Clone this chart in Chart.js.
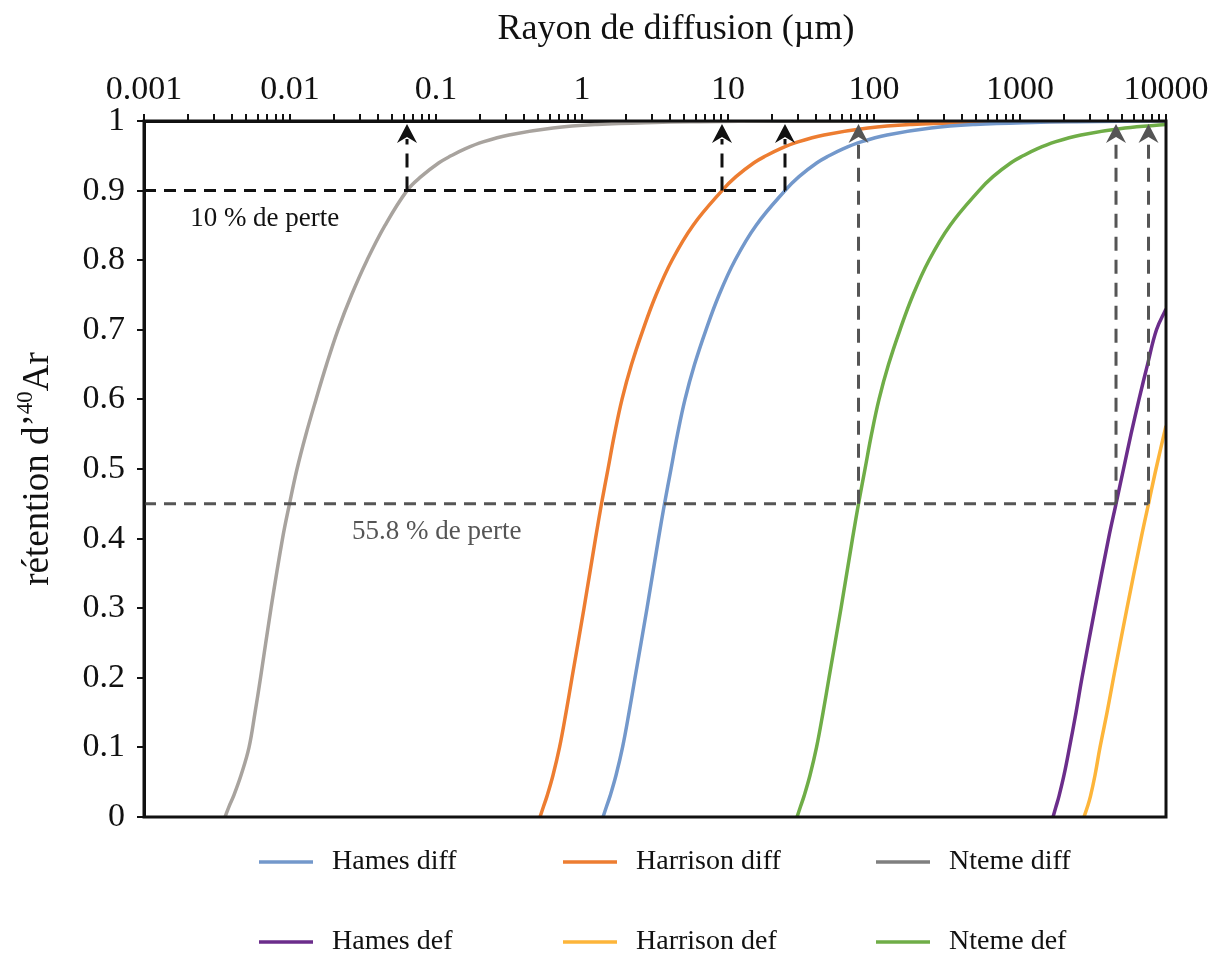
<!DOCTYPE html>
<html>
<head>
<meta charset="utf-8">
<script src="https://cdn.jsdelivr.net/npm/chart.js@4.4.1/dist/chart.umd.min.js"></script>
<style>
  body { margin: 0; background: #fff; }
  #wrap { width: 1217px; height: 958px; position: relative; }
</style>
</head>
<body>
<div id="wrap"><canvas id="chart-area"></canvas></div>
<script>
// rayon de diffusion (µm), retention
const hamesDiffR      = [1.393, 1.472, 1.556, 1.710, 1.895, 2.099, 2.307, 2.788, 3.341, 3.674, 4.071, 4.511, 5.076, 5.897, 7.069, 8.679, 11.17, 15.56, 24.57, 30.64, 40.70, 49.18, 61.33, 81.47, 122.8, 245.7, 491.8, 1228, 2457, 9097, 10000];
const hamesDiffRet    = [0, 0.015, 0.03, 0.06, 0.1, 0.15, 0.2, 0.3, 0.4, 0.45, 0.5, 0.55, 0.6, 0.65, 0.7, 0.75, 0.8, 0.85, 0.9, 0.92, 0.94, 0.95, 0.96, 0.97, 0.98, 0.99, 0.995, 0.998, 0.999, 1, 1];

const harrisonDiffR   = [0.5157, 0.5449, 0.5759, 0.6330, 0.7014, 0.7771, 0.8541, 1.032, 1.237, 1.360, 1.507, 1.670, 1.879, 2.183, 2.617, 3.213, 4.135, 5.759, 9.097, 11.34, 15.07, 18.21, 22.71, 30.17, 45.46, 90.97, 182.1, 454.6, 909.7, 7770, 10000];
const harrisonDiffRet = [0, 0.015, 0.03, 0.06, 0.1, 0.15, 0.2, 0.3, 0.4, 0.45, 0.5, 0.55, 0.6, 0.65, 0.7, 0.75, 0.8, 0.85, 0.9, 0.92, 0.94, 0.95, 0.96, 0.97, 0.98, 0.99, 0.995, 0.998, 0.999, 1, 1];

const ntemeDiffR      = [0.003589, 0.003821, 0.004103, 0.004618, 0.005240, 0.005759, 0.006283, 0.007411, 0.008887, 0.009922, 0.01117, 0.01287, 0.01507, 0.01778, 0.02132, 0.02638, 0.03369, 0.04475, 0.06330, 0.07893, 0.1048, 0.1267, 0.1580, 0.2099, 0.3162, 0.6330, 1.267, 3.162, 6.330, 22.71, 10000];
const ntemeDiffRet    = [0, 0.015, 0.03, 0.06, 0.1, 0.15, 0.2, 0.3, 0.4, 0.45, 0.5, 0.55, 0.6, 0.65, 0.7, 0.75, 0.8, 0.85, 0.9, 0.92, 0.94, 0.95, 0.96, 0.97, 0.98, 0.99, 0.995, 0.998, 0.999, 1, 1];

const hamesDefR       = [1683, 1765, 1850, 2001, 2183, 2419, 2659, 3264, 4039, 4546, 5116, 5759, 6533, 7470, 8607, 10000];
const hamesDefRet     = [0, 0.015, 0.03, 0.06, 0.1, 0.15, 0.2, 0.3, 0.4, 0.45, 0.5, 0.55, 0.6, 0.65, 0.7, 0.73];

const harrisonDefR    = [2744, 2900, 3040, 3264, 3531, 3944, 4370, 5406, 6743, 7589, 8541, 10000];
const harrisonDefRet  = [0, 0.015, 0.03, 0.06, 0.1, 0.15, 0.2, 0.3, 0.4, 0.45, 0.5, 0.562];

const ntemeDefR       = [29.70, 31.38, 33.17, 36.45, 40.39, 44.75, 49.19, 59.43, 71.24, 78.32, 86.79, 96.18, 108.2, 125.7, 150.7, 185.0, 238.1, 331.7, 523.9, 653.1, 867.9, 1049, 1308, 1738, 2618, 5239, 10000];
const ntemeDefRet     = [0, 0.015, 0.03, 0.06, 0.1, 0.15, 0.2, 0.3, 0.4, 0.45, 0.5, 0.55, 0.6, 0.65, 0.7, 0.75, 0.8, 0.85, 0.9, 0.92, 0.94, 0.95, 0.96, 0.97, 0.98, 0.99, 0.9948];

const seriesLabels = ['Hames diff', 'Harrison diff', 'Nteme diff', 'Hames def', 'Harrison def', 'Nteme def'];

// axes
const xTickLabels = ['0.001', '0.01', '0.1', '1', '10', '100', '1000', '10000'];
const xMinorSteps = [1, 2, 3, 4, 5, 6, 7, 8, 9];
const yTickLabels = ['0', '0.1', '0.2', '0.3', '0.4', '0.5', '0.6', '0.7', '0.8', '0.9', '1'];

// loss markers (level + radii where the curves cross it)
const lossLevels = [0.9, 0.45];
const lossTexts  = ['10 % de perte', '55.8 % de perte'];
const lossRadii  = [[0.0633, 9.097, 24.57], [78.32, 4546, 7589]];
const lossTextAt = [0.00207, 0.0266];

const SERIF = "'Liberation Serif', 'Times New Roman', serif";
const colors = ['#7398CB', '#ED7D31', '#A8A39E', '#6B2D8B', '#FDB53A', '#6FAD47'];
const legendColors = ['#7398CB', '#ED7D31', '#7F7F7F', '#6B2D8B', '#FDB53A', '#6FAD47'];
const guideColors = ['#111111', '#555555'];

function zip(rs, vs) { return rs.map((r, i) => ({x: r, y: vs[i]})); }

const allR   = [hamesDiffR, harrisonDiffR, ntemeDiffR, hamesDefR, harrisonDefR, ntemeDefR];
const allRet = [hamesDiffRet, harrisonDiffRet, ntemeDiffRet, hamesDefRet, harrisonDefRet, ntemeDefRet];

let datasets = seriesLabels.map((lbl, i) => ({
    label: lbl,
    data: zip(allR[i], allRet[i]),
    borderColor: colors[i],
    backgroundColor: colors[i],
    borderWidth: 3.5,
    pointRadius: 0,
    tension: 0.4,
    fill: false
}));

let xTickValues = [];
for (let e = -3; e < 4; e++) {
    xMinorSteps.forEach(m => xTickValues.push(Number((m * Math.pow(10, e)).toPrecision(3))));
}
xTickValues.push(10000);

const guides = {
    id: 'guides',
    afterDatasetsDraw(chart) {
        const {ctx, chartArea: a, scales: {x, y}} = chart;
        lossLevels.forEach((lvl, k) => {
            const yy = y.getPixelForValue(lvl);
            const xs = lossRadii[k].map(r => x.getPixelForValue(r));
            const col = guideColors[k];
            ctx.save();
            ctx.strokeStyle = col;
            ctx.lineWidth = 3;
            ctx.setLineDash([12, 8]);
            ctx.beginPath();
            ctx.moveTo(a.left, yy);
            ctx.lineTo(Math.max(...xs), yy);
            ctx.stroke();
            ctx.setLineDash([14, 9]);
            xs.forEach(px => {
                ctx.beginPath();
                ctx.moveTo(px, yy);
                ctx.lineTo(px, a.top + 18);
                ctx.stroke();
            });
            ctx.setLineDash([]);
            ctx.fillStyle = col;
            xs.forEach(px => {
                const tip = a.top + 3;
                ctx.beginPath();
                ctx.moveTo(px, tip);
                ctx.lineTo(px + 10, tip + 19);
                ctx.lineTo(px, tip + 13);
                ctx.lineTo(px - 10, tip + 19);
                ctx.closePath();
                ctx.fill();
            });
            ctx.font = '27px ' + SERIF;
            ctx.textBaseline = 'middle';
            ctx.textAlign = 'left';
            ctx.fillText(lossTexts[k], x.getPixelForValue(lossTextAt[k]), yy + 28);
            ctx.restore();
        });
    }
};

const frameAndText = {
    id: 'frameAndText',
    afterDraw(chart) {
        const {ctx, chartArea: a} = chart;
        ctx.save();
        // box round the plot
        ctx.strokeStyle = '#111';
        ctx.lineWidth = 3;
        ctx.strokeRect(a.left, a.top, a.right - a.left, a.bottom - a.top);

        // top title
        ctx.fillStyle = '#111';
        ctx.font = '36px ' + SERIF;
        ctx.textAlign = 'center';
        ctx.textBaseline = 'middle';
        ctx.fillText('Rayon de diffusion (µm)', 676, 30);

        // y title with superscript 40
        ctx.translate(38, (a.top + a.bottom) / 2);
        ctx.rotate(-Math.PI / 2);
        const big = '37px ' + SERIF, small = '23px ' + SERIF;
        const parts = [['rétention d’', big, 0], ['40', small, -12], ['Ar', big, 0]];
        let total = 0;
        parts.forEach(p => { ctx.font = p[1]; total += ctx.measureText(p[0]).width; });
        let cx = -total / 2;
        ctx.textAlign = 'left';
        parts.forEach(p => {
            ctx.font = p[1];
            ctx.fillText(p[0], cx, p[2]);
            cx += ctx.measureText(p[0]).width;
        });
        ctx.restore();

        // legend, 2 rows x 3 columns
        const legendCols = [259, 563, 876];
        const legendRows = [862, 942];
        ctx.save();
        ctx.font = '28px ' + SERIF;
        ctx.textBaseline = 'middle';
        ctx.textAlign = 'left';
        chart.data.datasets.forEach((ds, i) => {
            const lx = legendCols[i % 3], ly = legendRows[Math.floor(i / 3)];
            ctx.strokeStyle = legendColors[i];
            ctx.lineWidth = 3.5;
            ctx.beginPath();
            ctx.moveTo(lx, ly);
            ctx.lineTo(lx + 54, ly);
            ctx.stroke();
            ctx.fillStyle = '#111';
            ctx.fillText(ds.label, lx + 73, ly);
        });
        ctx.restore();
    }
};

new Chart(document.getElementById('chart-area').getContext('2d'), {
    type: 'line',
    data: {datasets: datasets},
    options: {
        responsive: true,
        maintainAspectRatio: false,
        animation: false,
        layout: {padding: {top: 0, left: 0, right: 51, bottom: 141}},
        plugins: {legend: {display: false}, tooltip: {enabled: false}},
        scales: {
            x: {
                type: 'logarithmic',
                position: 'top',
                min: 0.001,
                max: 10000,
                afterBuildTicks: s => { s.ticks = xTickValues.map(v => ({value: v})); },
                afterFit: s => { s.height = 121; },
                ticks: {
                    autoSkip: false,
                    maxRotation: 0,
                    minRotation: 0,
                    padding: 4,
                    color: '#111',
                    font: {family: SERIF, size: 34},
                    callback: v => {
                        const l = Math.log10(v);
                        return Math.abs(l - Math.round(l)) < 1e-6 ? xTickLabels[Math.round(l) + 3] : '';
                    }
                },
                grid: {drawOnChartArea: false, drawTicks: true, tickLength: 7, color: '#111', lineWidth: 2},
                border: {color: '#111', width: 3}
            },
            y: {
                type: 'linear',
                position: 'left',
                min: 0,
                max: 1,
                afterFit: s => { s.width = 144; },
                ticks: {
                    stepSize: 0.1,
                    padding: 12,
                    color: '#111',
                    font: {family: SERIF, size: 34},
                    callback: (v, i) => yTickLabels[i]
                },
                grid: {drawOnChartArea: false, drawTicks: true, tickLength: 7, color: '#111', lineWidth: 2},
                border: {color: '#111', width: 3}
            }
        }
    },
    plugins: [guides, frameAndText]
});
</script>
</body>
</html>
